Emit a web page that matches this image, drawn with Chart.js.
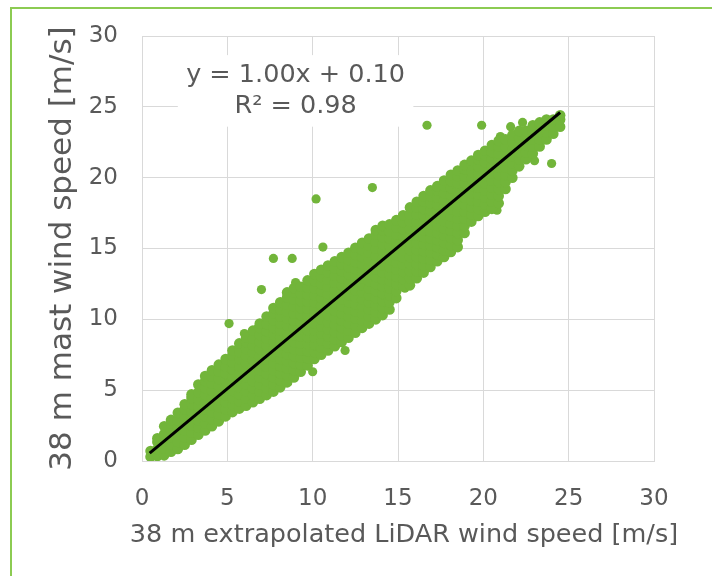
<!DOCTYPE html>
<html>
<head>
<meta charset="utf-8">
<title>Mast vs LiDAR wind speed</title>
<script src="https://cdn.jsdelivr.net/npm/chart.js@4/dist/chart.umd.min.js"></script>
<style>
  html, body { margin: 0; padding: 0; background: #fff; overflow: hidden; }
  #wrap { position: relative; width: 712px; height: 576px; }
  #frame {
    position: absolute; left: 10px; top: 7px; width: 800px; height: 700px;
    border-left: 2px solid #8ccb52; border-top: 2px solid #8ccb52;
  }
  #chart { position: absolute; left: 0; top: 0; }
</style>
</head>
<body>
<div id="wrap">
  <div id="frame"></div>
  <canvas id="chart" width="712" height="576"></canvas>
</div>
<script>
(function () {
  'use strict';

  // axis ticks
  var xTicks = [0, 5, 10, 15, 20, 25, 30];
  var yTicks = [0, 5, 10, 15, 20, 25, 30];

  // dense part of the cloud, read column by column: LiDAR speed -> mast speeds
  var bandX = [0.5, 0.9, 1.3, 1.7, 2.1, 2.5, 2.9, 3.3, 3.7, 4.1, 4.5, 4.9, 5.3, 5.7, 6.1, 6.5,
    6.9, 7.3, 7.7, 8.1, 8.5, 8.9, 9.3, 9.7, 10.1, 10.5, 10.9, 11.3, 11.7, 12.1, 12.5, 12.9,
    13.3, 13.7, 14.1, 14.5, 14.9, 15.3, 15.7, 16.1, 16.5, 16.9, 17.3, 17.7, 18.1, 18.5, 18.9,
    19.3, 19.7, 20.1, 20.5, 20.9, 21.3, 21.7, 22.1, 22.5, 22.9, 23.3, 23.7, 24.1, 24.5];
  var bandY = [
    [0.3, 0.7],
    [0.35, 0.85, 1.35, 1.6],
    [0.4, 0.9, 1.4, 1.9, 2.45],
    [0.65, 1.15, 1.65, 2.15, 2.65, 2.9],
    [0.85, 1.35, 1.85, 2.35, 2.85, 3.4],
    [1.15, 1.65, 2.15, 2.65, 3.15, 3.65, 4.0],
    [1.5, 2.0, 2.5, 3.0, 3.5, 4.0, 4.45, 4.7],
    [1.85, 2.35, 2.85, 3.35, 3.85, 4.35, 4.85, 5.4],
    [2.15, 2.65, 3.15, 3.65, 4.15, 4.65, 5.15, 5.65, 6.0],
    [2.45, 2.95, 3.45, 3.95, 4.45, 4.95, 5.45, 5.95, 6.4],
    [2.8, 3.3, 3.8, 4.3, 4.8, 5.3, 5.8, 6.3, 6.8],
    [3.15, 3.65, 4.15, 4.65, 5.15, 5.65, 6.15, 6.65, 7.2],
    [3.45, 3.95, 4.45, 4.95, 5.45, 5.95, 6.45, 6.95, 7.45, 7.8],
    [3.7, 4.2, 4.7, 5.2, 5.7, 6.2, 6.7, 7.2, 7.7, 8.3],
    [3.9, 4.4, 4.9, 5.4, 5.9, 6.4, 6.9, 7.4, 7.9, 8.4, 8.7],
    [4.15, 4.65, 5.15, 5.65, 6.15, 6.65, 7.15, 7.65, 8.15, 8.65, 9.2],
    [4.4, 4.9, 5.4, 5.9, 6.4, 6.9, 7.4, 7.9, 8.4, 8.9, 9.4, 9.7],
    [4.65, 5.15, 5.65, 6.15, 6.65, 7.15, 7.65, 8.15, 8.65, 9.15, 9.65, 10.2],
    [4.9, 5.4, 5.9, 6.4, 6.9, 7.4, 7.9, 8.4, 8.9, 9.4, 9.9, 10.4, 10.8],
    [5.2, 5.7, 6.2, 6.7, 7.2, 7.7, 8.2, 8.7, 9.2, 9.7, 10.2, 10.7, 11.2],
    [5.55, 6.05, 6.55, 7.05, 7.55, 8.05, 8.55, 9.05, 9.55, 10.05, 10.55, 11.05, 11.55, 11.9],
    [5.9, 6.4, 6.9, 7.4, 7.9, 8.4, 8.9, 9.4, 9.9, 10.4, 10.9, 11.4, 11.9, 12.2],
    [6.3, 6.8, 7.3, 7.8, 8.3, 8.8, 9.3, 9.8, 10.3, 10.8, 11.3, 11.8, 12.3],
    [6.75, 7.25, 7.75, 8.25, 8.75, 9.25, 9.75, 10.25, 10.75, 11.25, 11.75, 12.25, 12.75],
    [7.2, 7.7, 8.2, 8.7, 9.2, 9.7, 10.2, 10.7, 11.2, 11.7, 12.2, 12.7, 13.2],
    [7.5, 8.0, 8.5, 9.0, 9.5, 10.0, 10.5, 11.0, 11.5, 12.0, 12.5, 13.0, 13.5],
    [7.8, 8.3, 8.8, 9.3, 9.8, 10.3, 10.8, 11.3, 11.8, 12.3, 12.8, 13.3, 13.8],
    [8.1, 8.6, 9.1, 9.6, 10.1, 10.6, 11.1, 11.6, 12.1, 12.6, 13.1, 13.6, 14.1],
    [8.4, 8.9, 9.4, 9.9, 10.4, 10.9, 11.4, 11.9, 12.4, 12.9, 13.4, 13.9, 14.4],
    [8.7, 9.2, 9.7, 10.2, 10.7, 11.2, 11.7, 12.2, 12.7, 13.2, 13.7, 14.2, 14.7],
    [9.05, 9.55, 10.05, 10.55, 11.05, 11.55, 12.05, 12.55, 13.05, 13.55, 14.05, 14.55, 15.05],
    [9.4, 9.9, 10.4, 10.9, 11.4, 11.9, 12.4, 12.9, 13.4, 13.9, 14.4, 14.9, 15.4],
    [9.7, 10.2, 10.7, 11.2, 11.7, 12.2, 12.7, 13.2, 13.7, 14.2, 14.7, 15.2, 15.7],
    [10.0, 10.5, 11.0, 11.5, 12.0, 12.5, 13.0, 13.5, 14.0, 14.5, 15.0, 15.5, 16.0, 16.3],
    [10.3, 10.8, 11.3, 11.8, 12.3, 12.8, 13.3, 13.8, 14.3, 14.8, 15.3, 15.8, 16.3, 16.6],
    [10.7, 11.2, 11.7, 12.2, 12.7, 13.2, 13.7, 14.2, 14.7, 15.2, 15.7, 16.2, 16.7],
    [11.5, 12.0, 12.5, 13.0, 13.5, 14.0, 14.5, 15.0, 15.5, 16.0, 16.5, 17.0],
    [12.35, 12.85, 13.35, 13.85, 14.35, 14.85, 15.35, 15.85, 16.35, 16.85, 17.35],
    [12.4, 12.9, 13.4, 13.9, 14.4, 14.9, 15.4, 15.9, 16.4, 16.9, 17.4, 17.9],
    [12.9, 13.4, 13.9, 14.4, 14.9, 15.4, 15.9, 16.4, 16.9, 17.4, 17.9, 18.3],
    [13.3, 13.8, 14.3, 14.8, 15.3, 15.8, 16.3, 16.8, 17.3, 17.8, 18.3, 18.7],
    [13.7, 14.2, 14.7, 15.2, 15.7, 16.2, 16.7, 17.2, 17.7, 18.2, 18.7, 19.1],
    [14.1, 14.6, 15.1, 15.6, 16.1, 16.6, 17.1, 17.6, 18.1, 18.6, 19.1, 19.4],
    [14.4, 14.9, 15.4, 15.9, 16.4, 16.9, 17.4, 17.9, 18.4, 18.9, 19.4, 19.8],
    [14.75, 15.25, 15.75, 16.25, 16.75, 17.25, 17.75, 18.25, 18.75, 19.25, 19.75, 20.2],
    [15.1, 15.6, 16.1, 16.6, 17.1, 17.6, 18.1, 18.6, 19.1, 19.6, 20.1, 20.5],
    [16.1, 16.6, 17.1, 17.6, 18.1, 18.6, 19.1, 19.6, 20.1, 20.6, 20.9],
    [16.9, 17.4, 17.9, 18.4, 18.9, 19.4, 19.9, 20.4, 20.9, 21.2],
    [17.3, 17.8, 18.3, 18.8, 19.3, 19.8, 20.3, 20.8, 21.3, 21.6],
    [17.6, 18.1, 18.6, 19.1, 19.6, 20.1, 20.6, 21.1, 21.6, 21.9],
    [17.8, 18.3, 18.8, 19.3, 19.8, 20.3, 20.8, 21.3, 21.8, 22.3],
    [18.2, 18.7, 19.2, 19.7, 20.2, 20.7, 21.2, 21.7, 22.2, 22.6],
    [19.2, 19.7, 20.2, 20.7, 21.2, 21.7, 22.2, 22.7],
    [20.0, 20.5, 21.0, 21.5, 22.0, 22.5, 23.0],
    [20.8, 21.3, 21.8, 22.3, 22.8, 23.3],
    [21.3, 21.8, 22.3, 22.8, 23.3],
    [21.7, 22.2, 22.7, 23.2, 23.7],
    [22.2, 22.7, 23.2, 23.7, 23.9],
    [22.7, 23.2, 23.7, 24.1],
    [23.1, 23.6, 24.1],
    [23.6, 24.1, 24.4]
  ];

  // scattered points outside the main band
  var outlierX = [16.7, 19.9, 21.0, 24.0, 13.5, 10.2, 10.6, 7.7, 8.8, 9.0, 7.0, 5.1, 6.8,
    11.9, 10.0, 15.4, 21.6, 22.3, 6.0, 18.3, 23.0, 20.8];
  var outlierY = [23.7, 23.7, 22.9, 21.0, 19.3, 18.5, 15.1, 14.3, 14.3, 12.6, 12.1, 9.7, 9.4,
    7.8, 6.3, 12.2, 23.6, 23.9, 9.0, 15.3, 21.2, 17.7];

  // linear fit y = 1.00x + 0.10
  var fitX = [0.45, 24.5];
  var fitY = [0.55, 24.6];
  var fitLabels = ['y = 1.00x + 0.10', 'R\u00b2 = 0.98'];

  var xTitle = '38 m extrapolated LiDAR wind speed [m/s]';
  var yTitle = '38 m mast wind speed [m/s]';

  var FONT = "'DejaVu Sans', Verdana, sans-serif";
  var TEXT = '#595959';
  var GRID = '#d9d9d9';
  var GREEN = '#72b53a';

  var band = [];
  bandX.forEach(function (x, i) {
    bandY[i].forEach(function (y) { band.push({ x: x, y: y }); });
  });
  var outliers = outlierX.map(function (x, i) { return { x: x, y: outlierY[i] }; });
  var fit = fitX.map(function (x, i) { return { x: x, y: fitY[i] }; });

  // equation box sits on top of the grid, under the points
  var eqBox = {
    id: 'eqBox',
    beforeDatasetsDraw: function (chart) {
      var sx = chart.scales.x, sy = chart.scales.y, ctx = chart.ctx;
      var l = sx.getPixelForValue(2.1), r = sx.getPixelForValue(15.9);
      var t = sy.getPixelForValue(28.65), b = sy.getPixelForValue(23.6);
      ctx.save();
      ctx.fillStyle = '#fff';
      ctx.fillRect(l, t, r - l, b - t);
      ctx.fillStyle = TEXT;
      ctx.font = '25.5px ' + FONT;
      ctx.textAlign = 'center';
      ctx.textBaseline = 'middle';
      var cx = sx.getPixelForValue(9.0);
      ctx.fillText(fitLabels[0], cx, sy.getPixelForValue(27.2));
      ctx.fillText(fitLabels[1], cx, sy.getPixelForValue(25.05));
      ctx.restore();
    }
  };

  // axis titles drawn by hand: the built-in ones get squeezed to the axis length
  var axisTitles = {
    id: 'axisTitles',
    afterDraw: function (chart) {
      var a = chart.chartArea, ctx = chart.ctx;
      ctx.save();
      ctx.fillStyle = TEXT;
      ctx.textAlign = 'center';
      ctx.textBaseline = 'middle';
      ctx.font = '25.5px ' + FONT;
      ctx.fillText(xTitle, (a.left + a.right) / 2 + 6, chart.height - 41);
      ctx.translate(63, (a.top + a.bottom) / 2);
      ctx.rotate(-Math.PI / 2);
      ctx.font = '31px ' + FONT;
      ctx.fillText(yTitle, 0, 0);
      ctx.restore();
    }
  };

  function noPad(s) {
    s.paddingLeft = 0; s.paddingRight = 0; s.paddingTop = 0; s.paddingBottom = 0;
  }

  function axis(ticks, fitFn) {
    return {
      type: 'linear',
      min: ticks[0],
      max: ticks[ticks.length - 1],
      afterBuildTicks: function (s) { s.ticks = ticks.map(function (v) { return { value: v }; }); },
      afterFit: fitFn,
      ticks: { color: TEXT, font: { family: FONT, size: 23 }, padding: 24 },
      grid: { color: GRID, lineWidth: 1, drawTicks: false },
      border: { display: true, color: GRID, width: 1 },
      title: { display: false }
    };
  }

  new Chart(document.getElementById('chart'), {
    type: 'scatter',
    data: {
      datasets: [{
        data: fit,
        showLine: true,
        borderColor: '#000',
        borderWidth: 3,
        pointRadius: 0,
        order: 0
      }, {
        data: band,
        backgroundColor: GREEN,
        borderWidth: 0,
        pointRadius: 5.3,
        pointHoverRadius: 5.3,
        order: 1
      }, {
        data: outliers,
        backgroundColor: GREEN,
        borderWidth: 0,
        pointRadius: 4.6,
        pointHoverRadius: 4.6,
        order: 2
      }]
    },
    options: {
      responsive: false,
      animation: false,
      layout: { padding: { left: 0, top: 36, right: 58, bottom: 0 } },
      plugins: { legend: { display: false }, tooltip: { enabled: false } },
      scales: {
        x: axis(xTicks, function (s) { s.height = 115; noPad(s); }),
        y: axis(yTicks, function (s) { s.width = 142; noPad(s); })
      }
    },
    plugins: [eqBox, axisTitles]
  });
})();
</script>
</body>
</html>
